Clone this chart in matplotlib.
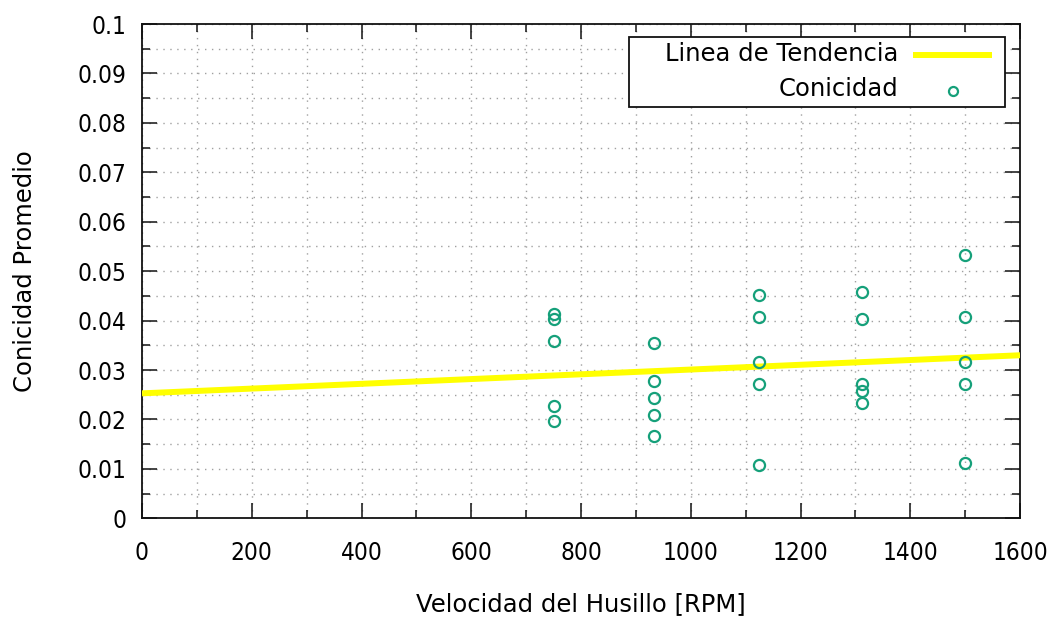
import numpy as np
import matplotlib
matplotlib.use("Agg")
import matplotlib.pyplot as plt
from matplotlib.ticker import MultipleLocator
from matplotlib.patches import Rectangle
from matplotlib.lines import Line2D
from matplotlib import font_manager

plt.rcParams['font.family'] = ['DejaVu Sans']

# Spindle speed groups [RPM] and measured average taper for each run
rpm_750 = [750] * 5
taper_750 = [0.0414, 0.0404, 0.0359, 0.0228, 0.0197]
rpm_933 = [933] * 5
taper_933 = [0.0355, 0.0278, 0.0244, 0.0208, 0.0167]
rpm_1125 = [1125] * 5
taper_1125 = [0.0452, 0.0407, 0.0316, 0.0272, 0.0108]
rpm_1312 = [1312] * 5
taper_1312 = [0.0458, 0.0403, 0.0272, 0.0258, 0.0234]
rpm_1500 = [1500] * 5
taper_1500 = [0.0533, 0.0407, 0.0316, 0.0272, 0.0111]

x_label = "Velocidad del Husillo [RPM]"
y_label = "Conicidad Promedio"
trend_label = "Linea de Tendencia"
points_label = "Conicidad"
y_tick_labels = ['0', '0.01', '0.02', '0.03', '0.04', '0.05', '0.06', '0.07', '0.08', '0.09', '0.1']

speed = np.array(rpm_750 + rpm_933 + rpm_1125 + rpm_1312 + rpm_1500, dtype=float)
taper = np.array(taper_750 + taper_933 + taper_1125 + taper_1312 + taper_1500)

# least-squares trend line over the full axis range
slope, intercept = np.polyfit(speed, taper, 1)
trend_x = np.array([0.0, 1600.0])
trend_y = intercept + slope * trend_x

fig = plt.figure(figsize=(10.61, 6.19), dpi=100)
AX_L, AX_R, AX_B, AX_T = 142, 1020, 518.3, 24
ax = fig.add_axes([AX_L / 1061, 1 - AX_B / 619, (AX_R - AX_L) / 1061, (AX_B - AX_T) / 619])

trend_color = '#ffff00'
point_color = '#15a07a'
frame_color = '#111111'

ax.plot(trend_x, trend_y, color=trend_color, lw=4.3, solid_capstyle='butt', zorder=3)
ax.plot(speed, taper, linestyle='none', marker='o', markersize=8.0,
        markerfacecolor='none', markeredgecolor=point_color, markeredgewidth=1.6, zorder=4)

ax.set_xlim(0, 1600)
ax.set_ylim(0, 0.1)
ax.xaxis.set_major_locator(MultipleLocator(200))
ax.xaxis.set_minor_locator(MultipleLocator(100))
ax.yaxis.set_minor_locator(MultipleLocator(0.005))
ax.set_yticks(np.arange(0, 0.1001, 0.01))
ax.set_yticklabels(y_tick_labels)

ax.grid(True, which='both', color='#a0a0a0', linestyle=(0, (1, 4)), linewidth=1.0, zorder=0)
ax.set_axisbelow(True)

ax.tick_params(which='both', direction='in', top=True, right=True, color=frame_color, width=1.1)
ax.tick_params(which='major', length=11)
ax.tick_params(which='minor', length=6)
ax.tick_params(axis='x', which='major', pad=16)
ax.tick_params(axis='y', which='major', pad=11)
for s in ax.spines.values():
    s.set_linewidth(1.3)
    s.set_color(frame_color)

# narrow face for the numbers where one is installed
tick_font = font_manager.FontProperties(family='DejaVu Sans', stretch='condensed', size=17.5)
for lab in ax.get_xticklabels() + ax.get_yticklabels():
    lab.set_fontproperties(tick_font)

label_size = 17.5
ax.set_xlabel(x_label, fontsize=label_size, va='top')
ax.xaxis.set_label_coords(0.5, (AX_B - 592) / (AX_B - AX_T))
ax.set_ylabel(y_label, fontsize=label_size)
ax.yaxis.set_label_coords((37 - AX_L) / (AX_R - AX_L), 0.5)


def to_ax(px, py):
    """Pixel position inside the figure -> axes fraction."""
    return (px - AX_L) / (AX_R - AX_L), (AX_B - py) / (AX_B - AX_T)


# key box in the upper right, text right-aligned ahead of each sample
x0, y1 = to_ax(629, 36.7)
x1, y0 = to_ax(1005, 107)
ax.add_patch(Rectangle((x0, y0), x1 - x0, y1 - y0, transform=ax.transAxes,
                       facecolor='white', edgecolor=frame_color, lw=1.3, zorder=6))
tx, ty1 = to_ax(898, 54)
_, ty2 = to_ax(898, 89)
ax.text(tx, ty1, trend_label, transform=ax.transAxes, ha='right', va='center',
        fontsize=label_size, zorder=7)
ax.text(tx, ty2, points_label, transform=ax.transAxes, ha='right', va='center',
        fontsize=label_size, zorder=7)
lx0, ly = to_ax(913, 55)
lx1, _ = to_ax(992, 55)
ax.add_line(Line2D([lx0, lx1], [ly, ly], transform=ax.transAxes, color=trend_color,
                   lw=4.3, solid_capstyle='butt', zorder=7))
mx, my = to_ax(953, 91)
ax.add_line(Line2D([mx], [my], transform=ax.transAxes, linestyle='none', marker='o',
                   markersize=6.5, markerfacecolor='none', markeredgecolor=point_color,
                   markeredgewidth=1.6, zorder=7))

fig.savefig('out.png', dpi=100)
